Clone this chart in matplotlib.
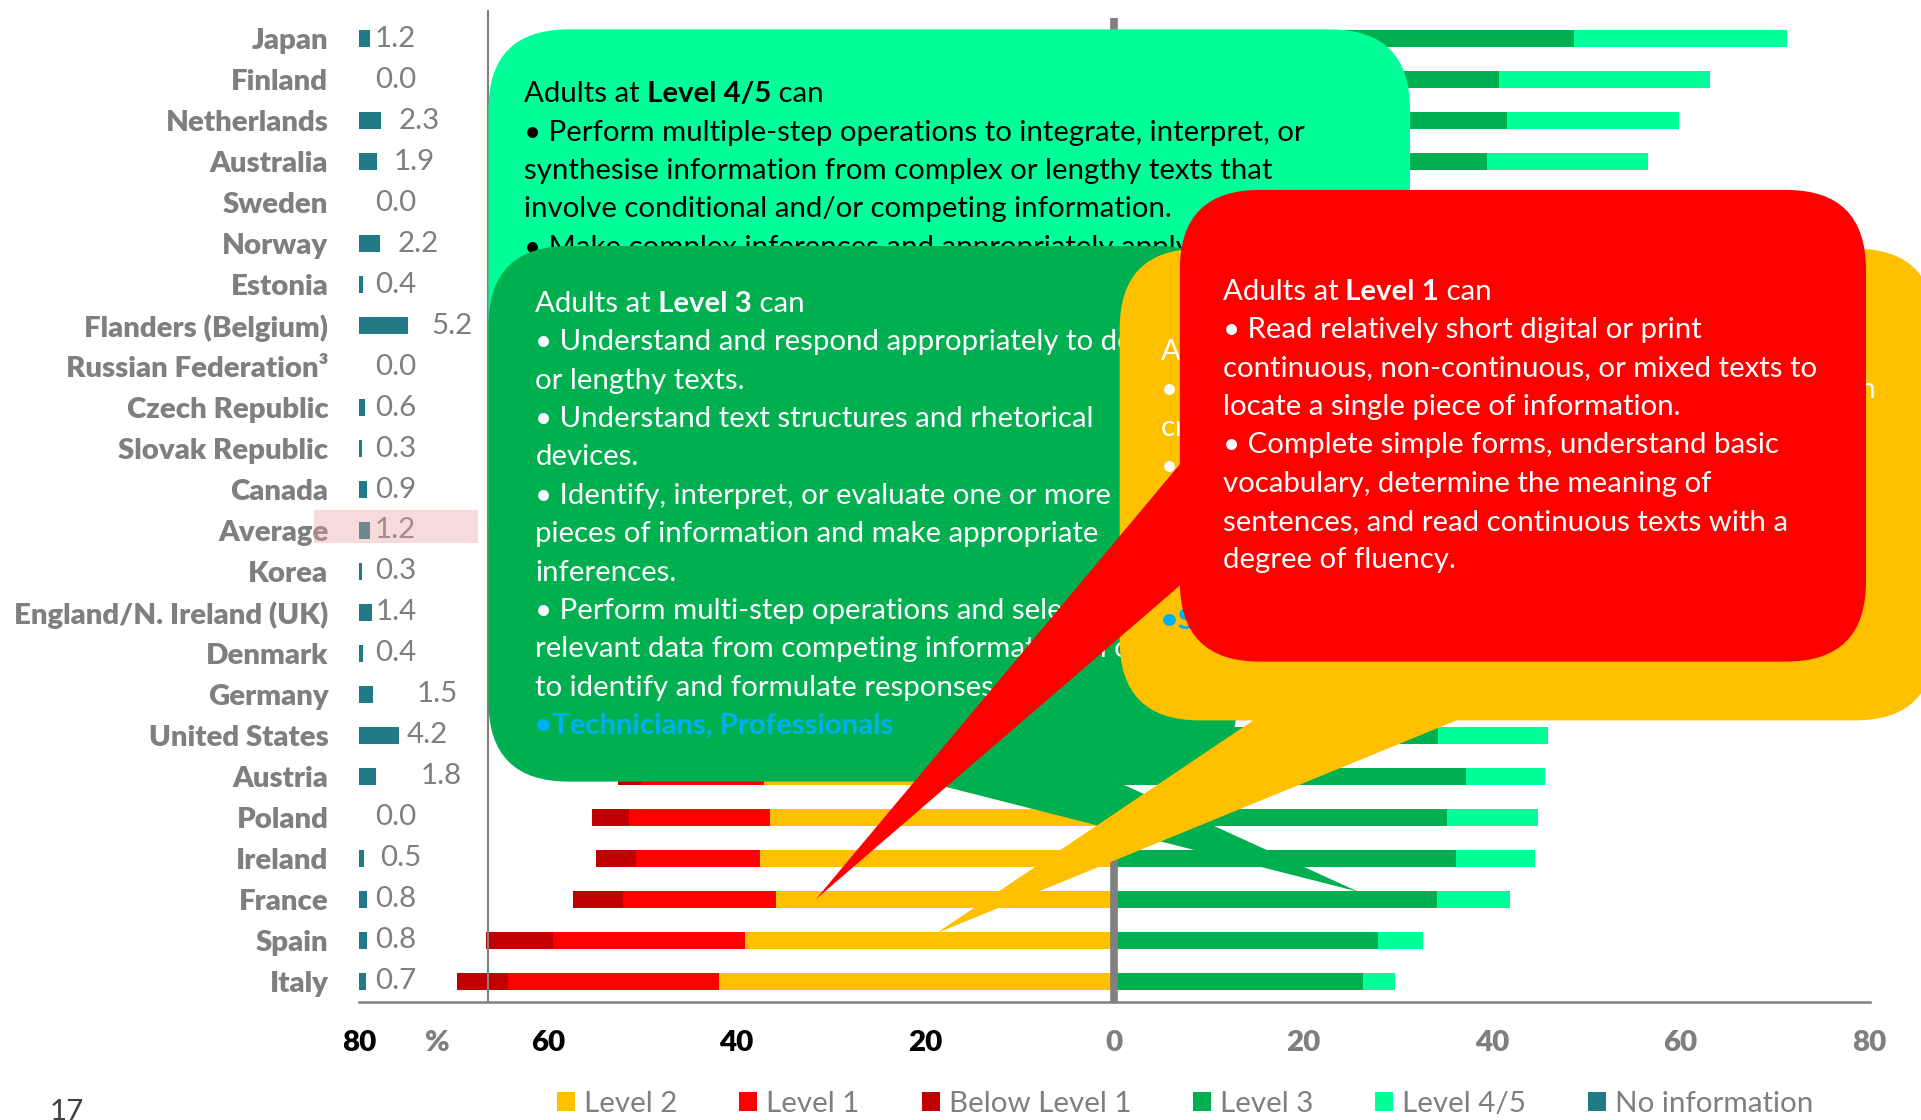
import matplotlib
matplotlib.use("Agg")
import matplotlib.pyplot as plt
from matplotlib.patches import FancyBboxPatch, Polygon, Rectangle, Patch
import numpy as np

plt.rcParams['font.family'] = ['Lato', 'DejaVu Sans']

# ---- literacy proficiency of adults, % by level ----
countries = ["Japan", "Finland", "Netherlands", "Australia", "Sweden", "Norway",
             "Estonia", "Flanders (Belgium)", "Russian Federation³", "Czech Republic",
             "Slovak Republic", "Canada", "Average", "Korea", "England/N. Ireland (UK)",
             "Denmark", "Germany", "United States", "Austria", "Poland", "Ireland",
             "France", "Spain", "Italy"]
below_level1 = [0.6, 2.7, 2.6, 3.1, 3.7, 2.3, 2.0, 2.6, 1.5, 1.5, 1.9, 3.8,
                3.3, 2.2, 3.3, 3.8, 3.3, 3.9, 2.5, 3.9, 4.2, 5.3, 7.1, 5.4]
level1 = [4.3, 8.0, 9.1, 9.4, 9.6, 10.0, 11.0, 11.0, 11.2, 10.3, 9.9, 12.6,
          12.2, 10.6, 13.1, 11.9, 14.2, 13.6, 13.0, 14.9, 13.2, 16.2, 20.4, 22.3]
level2 = [22.8, 26.2, 26.4, 29.2, 29.1, 30.2, 34.4, 30.0, 35.1, 36.9, 36.2, 31.0,
          33.3, 38.1, 33.7, 34.4, 33.9, 32.6, 37.1, 36.5, 37.5, 35.8, 39.1, 41.9]
level3 = [48.7, 40.8, 41.6, 39.5, 41.6, 41.6, 40.7, 37.4, 40.4, 42.0, 44.2, 37.3,
          38.2, 40.7, 35.4, 39.0, 36.4, 34.3, 37.3, 35.2, 36.2, 34.2, 27.9, 26.4]
level45 = [22.6, 22.3, 18.2, 17.0, 16.0, 13.7, 11.5, 13.8, 11.8, 8.7, 7.5, 14.4,
           11.8, 8.1, 13.1, 10.5, 10.7, 11.6, 8.3, 9.7, 8.4, 7.7, 4.8, 3.3]
no_information = [1.2, 0.0, 2.3, 1.9, 0.0, 2.2, 0.4, 5.2, 0.0, 0.6, 0.3, 0.9,
                  1.2, 0.3, 1.4, 0.4, 1.5, 4.2, 1.8, 0.0, 0.5, 0.8, 0.8, 0.7]

# where each "No information" value is printed (in % units of the axis)
no_info_label_x = [-78.3, -78.3, -75.8, -76.3, -78.3, -75.9, -78.3, -72.3,
                   -78.3, -78.3, -78.3, -78.3, -78.3, -78.3, -78.2, -78.3,
                   -73.9, -75.0, -73.5, -78.3, -77.8, -78.3, -78.3, -78.3]

axis_ticks = [-80, -60, -40, -20, 0, 20, 40, 60, 80]
axis_tick_labels = ["80", "60", "40", "20", "0", "20", "40", "60", "80"]

level_names = ["Level 2", "Level 1", "Below Level 1", "Level 3", "Level 4/5", "No information"]
level_colors = ["#FFC000", "#FF0000", "#C00000", "#00B050", "#00FF99", "#217B87"]

GRAY = "#7F7F7F"
STRONG = "heavy"
W, H = 1921, 1120

fig = plt.figure(figsize=(W / 100, H / 100), dpi=100)
renderer = fig.canvas.get_renderer()


def fitted_size(text, width_px, weight="normal"):
    probe = fig.text(0, 0, text, fontsize=20, fontweight=weight)
    width = probe.get_window_extent(renderer=renderer).width
    probe.remove()
    return 20.0 * width_px / width


LABEL_SIZE = fitted_size("England/N. Ireland (UK)", 315, STRONG)
VALUE_SIZE = fitted_size("No information", 198)
BODY_SIZE = fitted_size("• Perform multiple-step operations to integrate, interpret, or", 783)

# ---- main stacked bar chart ----
ax = fig.add_axes([359 / W, 1 - 1001.9 / H, 1510.5 / W, 983.8 / H])
y = np.arange(len(countries))
b1 = np.array(below_level1)
l1 = np.array(level1)
l2 = np.array(level2)
l3 = np.array(level3)
l45 = np.array(level45)
ni = np.array(no_information)

bar_h = 0.42
ax.barh(y, -l2, left=0, height=bar_h, color=level_colors[0], zorder=2)
ax.barh(y, -l1, left=-l2, height=bar_h, color=level_colors[1], zorder=2)
ax.barh(y, -b1, left=-(l2 + l1), height=bar_h, color=level_colors[2], zorder=2)
ax.barh(y, l3, left=0, height=bar_h, color=level_colors[3], zorder=2)
ax.barh(y, l45, left=l3, height=bar_h, color=level_colors[4], zorder=2)
ax.barh(y, ni, left=-80, height=0.40, color=level_colors[5], zorder=2)

for yi, v, lx in zip(y, ni, no_info_label_x):
    ax.text(lx, yi, f"{v:.1f}", va="center", ha="left", color=GRAY,
            fontsize=VALUE_SIZE, zorder=4)

ax.axvline(0, color="#808080", lw=5.5, zorder=3)
ax.set_xlim(-80, 80)
ax.set_ylim(len(countries) - 0.5, -0.5)
ax.set_yticks(y, countries)
ax.set_xticks(axis_ticks, axis_tick_labels)
ax.tick_params(axis="y", length=0, pad=22.1, labelsize=LABEL_SIZE, labelcolor=GRAY)
for lab in ax.get_yticklabels():
    lab.set_fontweight(STRONG)
ax.tick_params(axis="x", length=0, pad=29.3, labelsize=VALUE_SIZE)
tick_colors = ["#000000"] * 4 + [GRAY] * 5
for lab, c in zip(ax.get_xticklabels(), tick_colors):
    lab.set_color(c)
    lab.set_fontweight(STRONG)
    lab.set_va("center")
for s in ["top", "right", "left"]:
    ax.spines[s].set_visible(False)
ax.spines["bottom"].set_color("#808080")
ax.spines["bottom"].set_linewidth(1.8)

# ---- overlay in pixel units for callouts and decorations ----
ov = fig.add_axes([0, 0, 1, 1], zorder=2)
ov.set_xlim(0, W)
ov.set_ylim(H, 0)
ov.axis("off")

ov.plot([487.6, 487.6], [10, 1002], color="#808080", lw=1.5, zorder=1,
        solid_capstyle="butt")
ov.text(437.4, 1042.6, "%", ha="center", va="center", color=GRAY,
        fontweight=STRONG, fontsize=VALUE_SIZE)
ov.text(67, 1099, "17", ha="center", va="top", color="#404040", fontsize=VALUE_SIZE)
ov.add_patch(Rectangle((313.6, 509.6), 164.2, 33.1, fc=(0.92, 0.62, 0.62),
                       alpha=0.38, ec="none", zorder=30))

LINE_STEP = 38.4


def callout(box, fill, text_x, first_y, level, lines, text_color, z,
            tail=None, note=None):
    x0, y0, x1, y1 = box
    ov.add_patch(FancyBboxPatch((x0, y0), x1 - x0, y1 - y0,
                                boxstyle="round,pad=0,rounding_size=80",
                                fc=fill, ec="none", zorder=z))
    if tail is not None:
        tip, e1, e2 = (np.array(p, float) for p in tail)
        a = e1 + (e1 - tip) * 0.12
        b = e2 + (e2 - tip) * 0.12
        ov.add_patch(Polygon([a, tip, b], closed=True, fc=fill, ec="none", zorder=z))
    kw = dict(color=text_color, fontsize=BODY_SIZE, zorder=z + 0.5)
    head = ov.text(text_x, first_y, "Adults at", va="center", ha="left", **kw)
    lv = ov.annotate(" " + level, xy=(1, 0), xycoords=head, va="bottom", ha="left",
                     fontweight="bold", **kw)
    ov.annotate(" can", xy=(1, 0), xycoords=lv, va="bottom", ha="left", **kw)
    for i, s in enumerate(lines, start=1):
        ov.text(text_x, first_y + i * LINE_STEP, s, va="center", ha="left", **kw)
    if note is not None:
        ov.text(text_x, first_y + (len(lines) + 1) * LINE_STEP, note, va="center",
                ha="left", color="#00B0F0", fontsize=BODY_SIZE, fontweight="bold",
                zorder=z + 0.5)


callout((488.5, 29.4, 1410, 600), "#00FF99", 524.3, 94.3, "Level 4/5",
        ["• Perform multiple-step operations to integrate, interpret, or",
         "synthesise information from complex or lengthy texts that",
         "involve conditional and/or competing information.",
         "• Make complex inferences and appropriately apply",
         "background knowledge."],
        "#000000", 10)

callout((488.5, 246, 1237, 781.6), "#00B050", 535.4, 303.8, "Level 3",
        ["• Understand and respond appropriately to dense",
         "or lengthy texts.",
         "• Understand text structures and rhetorical",
         "devices.",
         "• Identify, interpret, or evaluate one or more",
         "pieces of information and make appropriate",
         "inferences.",
         "• Perform multi-step operations and select",
         "relevant data from competing information in order",
         "to identify and formulate responses."],
        "white", 12,
        tail=((1358.3, 891.7), (925, 781.6), (1116.7, 781.6)),
        note="•Technicians, Professionals")

callout((1119.7, 248.7, 1935, 720.4), "#FFC000", 1161.4, 351.6, "Level 2",
        ["• Integrate two or more pieces of information based on",
         "criteria, compare and contrast or reason about",
         "• Navigate within digital texts to access and",
         "identify information from various parts of a",
         "document and make low-level inferences.",
         ""],
        "white", 14,
        tail=((936, 933.5), (1253.3, 720.4), (1456.6, 720.4)),
        note="•Skilled workers, Clerks")

callout((1179.8, 189.9, 1866, 661.6), "#FF0000", 1222.6, 291.6, "Level 1",
        ["• Read relatively short digital or print",
         "continuous, non-continuous, or mixed texts to",
         "locate a single piece of information.",
         "• Complete simple forms, understand basic",
         "vocabulary, determine the meaning of",
         "sentences, and read continuous texts with a",
         "degree of fluency."],
        "white", 16,
        tail=((815.9, 899.2), (1179.8, 464.3), (1179.8, 585.6)))

# ---- legend ----
em = VALUE_SIZE * 100 / 72
handles = [Patch(facecolor=c, edgecolor="none", label=n)
           for n, c in zip(level_names, level_colors)]
fig.legend(handles=handles, loc="center left",
           bbox_to_anchor=(556.8 / W, 1 - 1104 / H), ncol=6, frameon=False,
           fontsize=VALUE_SIZE, labelcolor=GRAY, handlelength=18 / em,
           handleheight=17 / em, handletextpad=9 / em, columnspacing=62 / em,
           borderpad=0, borderaxespad=0)

fig.savefig("out.png", dpi=100)
